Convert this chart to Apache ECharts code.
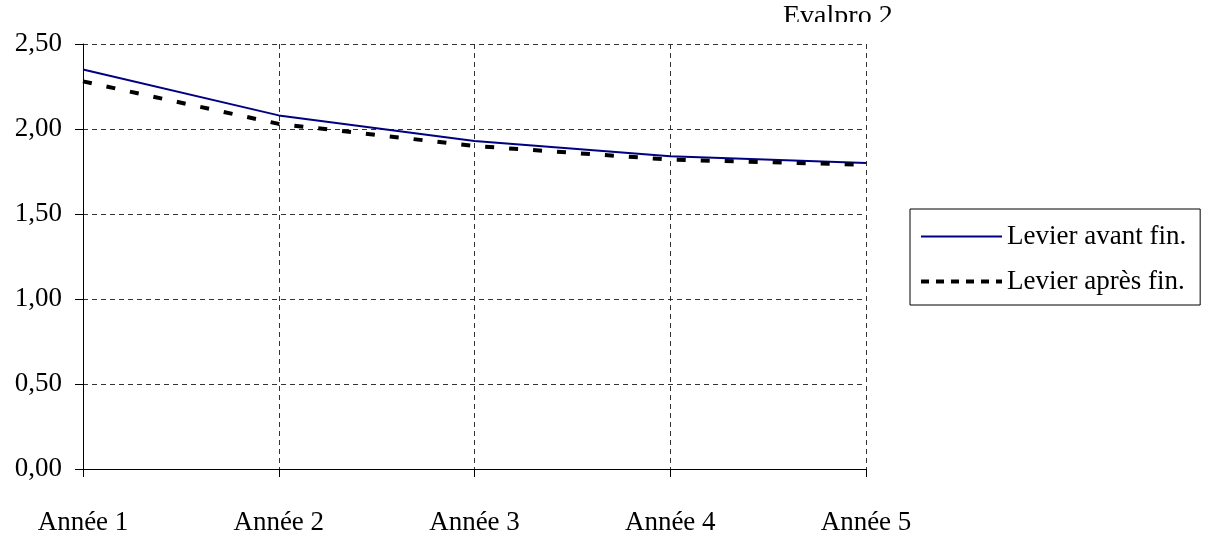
<!DOCTYPE html>
<html>
<head>
<meta charset="utf-8">
<script src="https://cdn.jsdelivr.net/npm/echarts@6/dist/echarts.min.js"></script>
<style>
  html, body { margin: 0; padding: 0; background: #fff; }
  #chart { width: 1209px; height: 533px; }
</style>
</head>
<body>
<div id="chart"></div>
<script>
// Années et ratios de levier
const categories = ['Année 1', 'Année 2', 'Année 3', 'Année 4', 'Année 5'];
const levierAvant = [2.35, 2.08, 1.93, 1.84, 1.80];
const levierApres = [2.28, 2.03, 1.90, 1.82, 1.79];
const seriesNames = ['Levier avant fin.', 'Levier après fin.'];
const titleText = 'Evalpro 2';

const FONT = '"Liberation Serif", "Times New Roman", serif';
const fmt = v => v.toFixed(2).replace('.', ',');

const chart = echarts.init(document.getElementById('chart'), null, { renderer: 'canvas' });

chart.setOption({
  animation: false,
  backgroundColor: '#ffffff',
  grid: { left: 83, right: 343, top: 44, bottom: 64, containLabel: false, outerBoundsMode: 'none' },
  xAxis: {
    type: 'category',
    data: categories,
    boundaryGap: false,
    axisLine: { lineStyle: { color: '#000', width: 1 } },
    axisTick: { show: true, length: 8, inside: false, lineStyle: { color: '#000' } },
    axisLabel: { color: '#000', fontFamily: FONT, fontSize: 27, margin: 40 },
    splitLine: { show: true, lineStyle: { color: '#333', width: 1, type: [5, 4] } }
  },
  yAxis: {
    type: 'value',
    min: 0,
    max: 2.5,
    interval: 0.5,
    axisLine: { show: true, lineStyle: { color: '#000', width: 1 } },
    axisTick: { show: true, length: 8, inside: false, lineStyle: { color: '#000' } },
    axisLabel: { color: '#000', fontFamily: FONT, fontSize: 27, margin: 21, formatter: fmt },
    splitLine: { show: true, lineStyle: { color: '#333', width: 1, type: [5, 4] } }
  },
  legend: {
    orient: 'vertical',
    left: 910,
    top: 209,
    padding: [14, 14, 10, 9],
    borderColor: '#000',
    borderWidth: 1,
    itemWidth: 81,
    itemHeight: 26,
    itemGap: 18,
    // trait seul, sans marqueur
    itemStyle: { opacity: 0 },
    textStyle: { color: '#000', fontFamily: FONT, fontSize: 27 },
    data: [
      { name: seriesNames[0], lineStyle: { type: 'solid', width: 2, color: '#000080', opacity: 1 } },
      { name: seriesNames[1], lineStyle: { type: [8, 7], width: 4, color: '#000', opacity: 1 } }
    ]
  },
  graphic: [
    {
      type: 'text',
      left: 783,
      top: 3,
      z: 10,
      style: { text: titleText, fill: '#000', font: '28px ' + FONT }
    },
    {
      // bande blanche qui coupe le bas du titre
      type: 'rect',
      left: 760,
      top: 22,
      z: 11,
      shape: { width: 160, height: 18 },
      style: { fill: '#fff' }
    }
  ],
  series: [
    {
      name: seriesNames[0],
      type: 'line',
      data: levierAvant,
      symbol: 'none',
      lineStyle: { color: '#000080', width: 2 },
      itemStyle: { color: '#000080' },
      z: 3
    },
    {
      name: seriesNames[1],
      type: 'line',
      data: levierApres,
      symbol: 'none',
      lineStyle: { color: '#000', width: 4, type: [9, 15] },
      itemStyle: { color: '#000' },
      z: 4
    }
  ]
});
</script>
</body>
</html>
